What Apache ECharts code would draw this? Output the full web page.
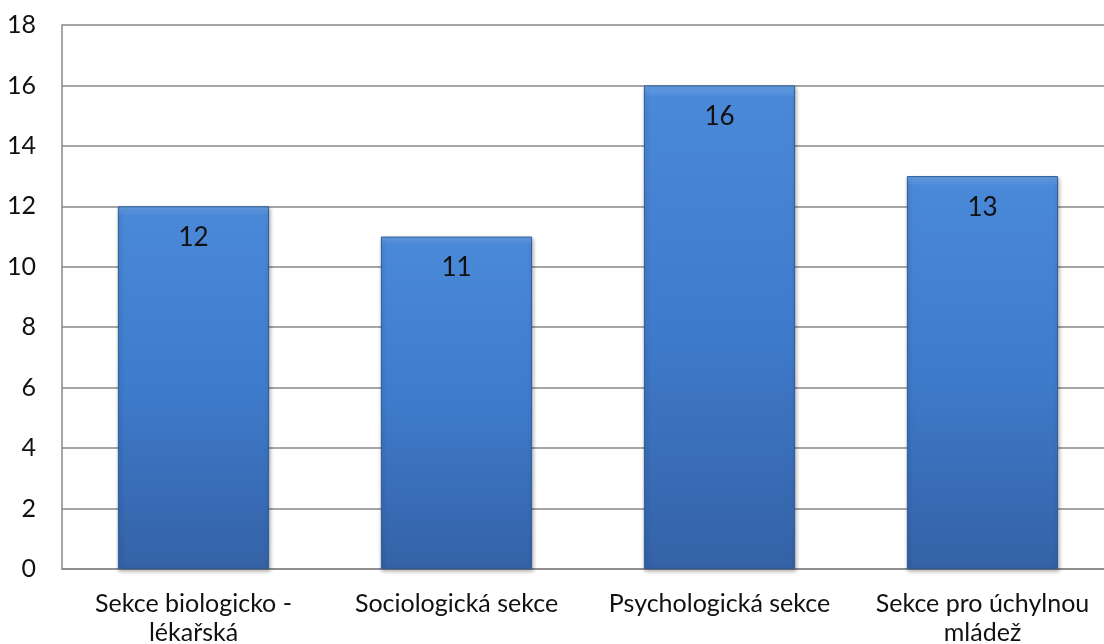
<!DOCTYPE html>
<html><head><meta charset="utf-8">
<script src="https://cdn.jsdelivr.net/npm/echarts@6/dist/echarts.min.js"></script>
<style>html,body{margin:0;padding:0;background:#fff;overflow:hidden}#c{width:1104px;height:644px}</style>
</head><body><div id="c"></div>
<script>
const categories = ["Sekce biologicko -\nlékařská", "Sociologická sekce", "Psychologická sekce", "Sekce pro úchylnou\nmládež"];
const values = [12, 11, 16, 13];
const yTicks = [0, 2, 4, 6, 8, 10, 12, 14, 16, 18];

const chart = echarts.init(document.getElementById('c'));
const font = "Lato, 'Open Sans', 'Noto Sans', sans-serif";
chart.setOption({
  animation: false,
  grid: {left: 62, right: -10, top: 25, bottom: 75, outerBoundsMode: 'none', containLabel: false},
  xAxis: {
    type: 'category', data: categories,
    axisLine: {lineStyle: {color: '#888', width: 1.5}},
    axisTick: {show: false},
    axisLabel: {color: '#111', fontSize: 25, fontFamily: font, margin: 20, lineHeight: 29, interval: 0}
  },
  yAxis: {
    type: 'value', min: yTicks[0], max: yTicks[yTicks.length-1], interval: 2,
    axisLine: {show: true, lineStyle: {color: '#888', width: 1.5}},
    axisTick: {show: false},
    splitLine: {lineStyle: {color: '#888', width: 1.5}},
    axisLabel: {color: '#111', fontSize: 25, fontFamily: font, margin: 26}
  },
  series: [{
    type: 'bar', data: values, barWidth: '57.5%',
    itemStyle: {
      color: new echarts.graphic.LinearGradient(0, 0, 0, 1, [
        {offset: 0, color: '#6aa3e8'},
        {offset: 0.025, color: '#4a88d8'},
        {offset: 0.5, color: '#3f7bcc'},
        {offset: 1, color: '#3462a6'}
      ]),
      borderColor: '#2f5a98', borderWidth: 1,
      shadowColor: 'rgba(0,0,0,0.3)', shadowBlur: 4, shadowOffsetX: 1, shadowOffsetY: 2
    },
    label: {show: true, position: 'insideTop', distance: 18, color: '#111', fontSize: 26, fontFamily: font}
  }]
});
</script></body></html>
